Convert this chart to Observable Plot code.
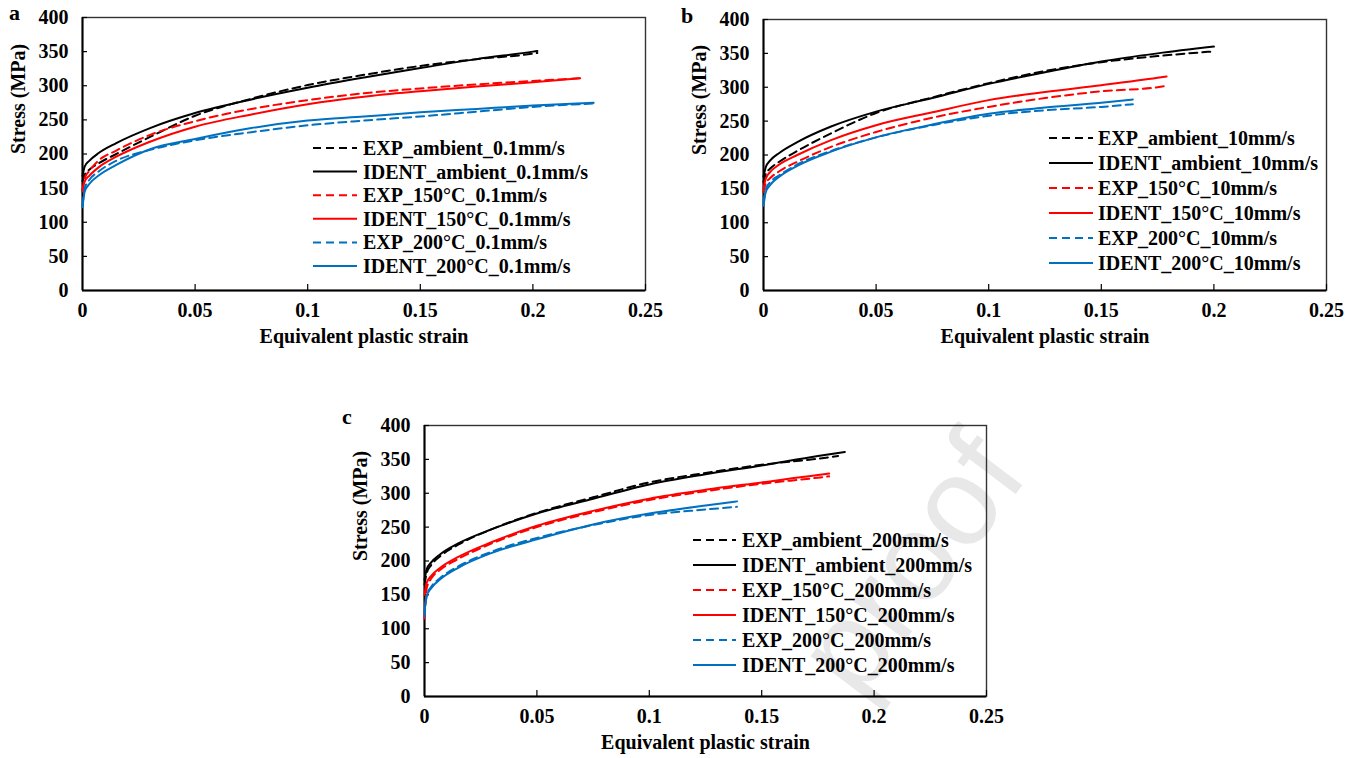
<!DOCTYPE html>
<html><head><meta charset="utf-8">
<script src="https://cdn.jsdelivr.net/npm/d3@7"></script>
<script src="https://cdn.jsdelivr.net/npm/@observablehq/plot@0.6"></script>
<style>
body{margin:0;background:#fff;}
#root{position:relative;width:1358px;height:758px;overflow:hidden;font-family:"Liberation Serif","Times New Roman",serif;}
.abs{position:absolute;}
</style></head>
<body><div id="root"></div>
<script>
// ---------- data ----------
const strainGrid = [0, 0.001, 0.003, 0.007, 0.015, 0.03, 0.05, 0.075, 0.1, 0.125, 0.15, 0.175, 0.2];
const xTicks = [0, 0.05, 0.1, 0.15, 0.2, 0.25];
const yTicks = [0, 50, 100, 150, 200, 250, 300, 350, 400];
const temps = ["ambient", "150°C", "200°C"];
const tempColors = ["#000000", "#ff0000", "#0070c0"];

// panel a (0.1 mm/s): end strain of each curve, stress on strainGrid then at end
const a_end = {ambient: 0.202, "150°C": 0.221, "200°C": 0.227};
const a_EXP_ambient   = [160,170,177,186,200,225,256,281,301,316,329,339,347,348];
const a_IDENT_ambient = [168,182,190,201,216,238,260,280,297,312,326,339,350,351];
const a_EXP_150       = [145,165,175,190,205,228,248,266,279,289,296,302,307,311];
const a_IDENT_150     = [148,160,168,180,196,218,240,258,273,284,292,299,305,311];
const a_EXP_200       = [125,150,162,174,190,206,220,232,242,249,255,262,269,274];
const a_IDENT_200     = [122,145,156,168,184,207,222,238,249,255,261,266,271,275];

// panel b (10 mm/s)
const b_end = {ambient: 0.2, "150°C": 0.179, "200°C": 0.164};
const b_EXP_ambient   = [160,172,180,190,206,232,262,285,306,324,337,346,353];
const b_IDENT_ambient = [168,182,192,203,219,242,264,284,305,322,338,350,360];
const b_EXP_150       = [145,158,166,176,190,212,234,255,271,284,294,300,302];
const b_IDENT_150     = [150,165,175,186,200,222,244,263,281,293,303,314,316];
const b_EXP_200       = [130,150,160,170,186,206,226,244,258,266,271,275];
const b_IDENT_200     = [125,145,156,168,184,205,226,245,261,270,277,282];

// panel c (200 mm/s)
const c_end = {ambient: [0.184, 0.187], "150°C": [0.18, 0.18], "200°C": [0.139, 0.139]};
const c_EXP_ambient   = [165,182,194,207,224,247,271,294,316,330,342,351,355];
const c_IDENT_ambient = [172,188,198,210,226,247,270,292,313,328,341,355,361];
const c_EXP_150       = [115,160,174,187,203,226,250,272,290,303,314,323,325];
const c_IDENT_150     = [150,168,178,190,206,228,252,274,292,305,316,327,329];
const c_EXP_200       = [118,150,162,175,192,214,234,253,268,276,280];
const c_IDENT_200     = [125,148,160,173,190,212,232,254,270,282,288];

// ---------- helpers ----------
function strainsTo(end){ return [...strainGrid.filter(g => g < end - 1e-9), end]; }
function mk(kind, temp, rate, end, stress){
  const s = strainsTo(end);
  return {name: `${kind}_${temp}_${rate}`, kind, color: tempColors[temps.indexOf(temp)],
          pts: s.map((x,i)=>({x, y: stress[i]}))};
}
const panels = [
  {letter:"a", left:82, top:17, w:563, h:273, lx1:313, lx2:357, tx:363, ly:148, dy:23.6,
   series:[mk("EXP","ambient","0.1mm/s",a_end.ambient,a_EXP_ambient), mk("IDENT","ambient","0.1mm/s",a_end.ambient,a_IDENT_ambient),
           mk("EXP","150°C","0.1mm/s",a_end["150°C"],a_EXP_150), mk("IDENT","150°C","0.1mm/s",a_end["150°C"],a_IDENT_150),
           mk("EXP","200°C","0.1mm/s",a_end["200°C"],a_EXP_200), mk("IDENT","200°C","0.1mm/s",a_end["200°C"],a_IDENT_200)]},
  {letter:"b", left:763, top:19, w:563, h:271, lx1:1049, lx2:1093, tx:1098, ly:138, dy:25,
   series:[mk("EXP","ambient","10mm/s",b_end.ambient,b_EXP_ambient), mk("IDENT","ambient","10mm/s",b_end.ambient,b_IDENT_ambient),
           mk("EXP","150°C","10mm/s",b_end["150°C"],b_EXP_150), mk("IDENT","150°C","10mm/s",b_end["150°C"],b_IDENT_150),
           mk("EXP","200°C","10mm/s",b_end["200°C"],b_EXP_200), mk("IDENT","200°C","10mm/s",b_end["200°C"],b_IDENT_200)]},
  {letter:"c", left:424, top:425, w:562, h:271, lx1:693, lx2:736, tx:742, ly:540, dy:25,
   series:[mk("EXP","ambient","200mm/s",c_end.ambient[0],c_EXP_ambient), mk("IDENT","ambient","200mm/s",c_end.ambient[1],c_IDENT_ambient),
           mk("EXP","150°C","200mm/s",c_end["150°C"][0],c_EXP_150), mk("IDENT","150°C","200mm/s",c_end["150°C"][1],c_IDENT_150),
           mk("EXP","200°C","200mm/s",c_end["200°C"][0],c_EXP_200), mk("IDENT","200°C","200mm/s",c_end["200°C"][1],c_IDENT_200)]}
];

const root = document.getElementById("root");
const FONT = '"Liberation Serif","Times New Roman",serif';

// watermark (behind)
const wm = d3.select(root).append("svg").attr("class","abs").style("left","0px").style("top","0px")
  .attr("width",1358).attr("height",758);
wm.append("text").attr("transform","translate(1030,475) rotate(-53)")
  .attr("text-anchor","end").attr("font-family",'"Liberation Sans",Arial,sans-serif')
  .attr("font-size",125).attr("fill","#e8e8e8").text("proof");

const mL = 80, mR = 12, mT = 12, mB = 62;
for (const p of panels) {
  const marks = [
    Plot.frame({stroke:"#333", strokeWidth:1.4}),
    Plot.ruleX([0], {stroke:"#000", strokeWidth:2}),
    Plot.ruleY([0], {stroke:"#000", strokeWidth:2}),
    Plot.tickY(yTicks.slice(1), {y: d=>d, insetRight: p.w - 5, stroke:"#000", strokeWidth:1.2}),
    Plot.tickX(xTicks.slice(1), {x: d=>d, insetTop: p.h - 6, stroke:"#000", strokeWidth:1.2}),
    Plot.axisY({ticks: yTicks, tickSize: 0, tickPadding: 14, label: null}),
    Plot.axisX({ticks: xTicks, tickSize: 0, tickPadding: 12, label: null, tickFormat: d => String(+d.toFixed(2))}),
    Plot.text(["Equivalent plastic strain"], {frameAnchor:"bottom", dy: 52, fontSize: 20, fontWeight:"bold"}),
    Plot.text(["Stress (MPa)"], {frameAnchor:"left", dx: -64, rotate: -90, fontSize: 20, fontWeight:"bold"})
  ];
  for (const s of p.series) {
    marks.push(Plot.line(s.pts, {x:"x", y:"y", stroke: s.color, strokeWidth: 2,
      strokeDasharray: s.kind === "EXP" ? "8,5" : null, curve: "monotone-x"}));
  }
  const chart = Plot.plot({
    width: p.w + mL + mR, height: p.h + mT + mB,
    marginLeft: mL, marginRight: mR, marginTop: mT, marginBottom: mB,
    x: {domain: [0, 0.25]}, y: {domain: [0, 400]},
    style: {fontFamily: FONT, fontSize: "20px", fontWeight: "bold", color: "#000", background: "transparent", overflow: "visible"},
    marks
  });
  chart.classList.add("abs");
  chart.style.left = (p.left - mL) + "px";
  chart.style.top = (p.top - mT) + "px";
  chart.style.maxWidth = "none";
  root.appendChild(chart);

  // legend + panel letter
  const lg = d3.select(root).append("svg").attr("class","abs").style("left","0px").style("top","0px")
    .attr("width",1358).attr("height",758).style("pointer-events","none");
  p.series.forEach((s,i) => {
    const y = p.ly + i * p.dy;
    lg.append("line").attr("x1",p.lx1).attr("x2",p.lx2).attr("y1",y).attr("y2",y)
      .attr("stroke",s.color).attr("stroke-width",2).attr("stroke-dasharray", s.kind==="EXP" ? "8,5" : null);
    lg.append("text").attr("x",p.tx).attr("y",y).attr("dy","0.35em")
      .attr("font-family",FONT).attr("font-weight","bold").attr("font-size",20).attr("fill","#000").text(s.name);
  });
  const letterPos = {a:[9,20], b:[681,23], c:[342,424]}[p.letter];
  lg.append("text").attr("x",letterPos[0]).attr("y",letterPos[1]).attr("font-family",FONT)
    .attr("font-weight","bold").attr("font-size",22).text(p.letter);
}
</script>
</body></html>
